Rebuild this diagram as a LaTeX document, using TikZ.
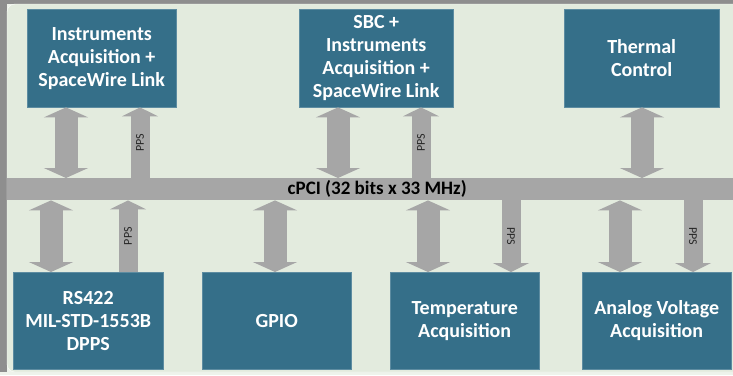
\documentclass[tikz,border=0pt]{standalone}
\usepackage{fontspec}
\setmainfont{Carlito}
\usetikzlibrary{positioning,arrows.meta}

\definecolor{panelbg}{HTML}{E3EBDE}
\definecolor{framegrey}{HTML}{8E8E8E}
\definecolor{boxblue}{HTML}{356F89}
\definecolor{busgrey}{HTML}{A6A6A6}

\begin{document}
\begin{tikzpicture}[x=1pt,y=-1pt,
  blk/.style={draw=boxblue!80!white,fill=boxblue,text=white,anchor=north west,
    minimum height=98pt,align=center,inner sep=0pt,
    font=\fontsize{20}{23}\selectfont\bfseries},
  dbl/.style={draw=busgrey,line width=23pt,
    {Triangle[length=10pt,width=44pt]}-{Triangle[length=10pt,width=44pt]}},
  pps/.style={draw=busgrey,line width=19pt,-{Triangle[length=9pt,width=36pt]}},
  ppslbl/.style={midway,font=\fontsize{12}{12}\selectfont,text=black!85}]
  \useasboundingbox (0,0) rectangle (733,375);
  % background panel
  \fill[panelbg!60!white] (0,0) rectangle (733,375);
  \fill[framegrey] (0,0) rectangle (733,4);
  \fill[framegrey] (0,0) rectangle (7,372);
  \fill[panelbg,draw=white!85!panelbg,rounded corners=8pt] (7,4) rectangle (760,372);
  % upper modules
  \node[blk,minimum width=149pt] (inst) at (27,9) {Instruments\\Acquisition +\\SpaceWire Link};
  \node[blk,minimum width=154pt] (sbc) at (299,9) {SBC +\\Instruments\\Acquisition +\\SpaceWire Link};
  \node[blk,minimum width=155pt] (therm) at (564,9) {Thermal\\Control};
  % bus
  \node[fill=busgrey,anchor=north west,minimum width=740pt,minimum height=22pt,
    inner sep=0pt,font=\fontsize{19}{20}\selectfont\bfseries] (bus) at (7,178)
    {cPCI (32 bits x 33 MHz)};
  % lower modules
  \node[blk,minimum width=150pt,minimum height=97pt] (rs) at (13,272) {RS422\\MIL-STD-1553B\\DPPS};
  \node[blk,minimum width=149pt,minimum height=97pt] (gpio) at (202,272) {GPIO};
  \node[blk,minimum width=149pt,minimum height=97pt] (temp) at (390,272) {Temperature\\Acquisition};
  \node[blk,minimum width=149pt,minimum height=97pt] (anv) at (582,272) {Analog Voltage\\Acquisition};
  % links to the bus
  \draw[dbl] ([xshift=39pt]inst.south west) -- ([xshift=39pt]inst.south west |- bus.north);
  \draw[pps] ([xshift=113pt]inst.south west |- bus.north) -- ([xshift=113pt]inst.south west)
    node[ppslbl,rotate=90] {PPS};
  \draw[dbl] ([xshift=39pt]sbc.south west) -- ([xshift=39pt]sbc.south west |- bus.north);
  \draw[pps] ([xshift=122pt]sbc.south west |- bus.north) -- ([xshift=122pt]sbc.south west)
    node[ppslbl,rotate=90] {PPS};
  \draw[dbl] ([xshift=78pt]therm.south west) -- ([xshift=78pt]therm.south west |- bus.north);
  \draw[dbl] ([xshift=38pt]rs.north west) -- ([xshift=38pt]rs.north west |- bus.south);
  \draw[pps] ([xshift=115pt]rs.north west) -- ([xshift=115pt]rs.north west |- bus.south)
    node[ppslbl,rotate=90] {PPS};
  \draw[dbl] ([xshift=73pt]gpio.north west) -- ([xshift=73pt]gpio.north west |- bus.south);
  \draw[dbl] ([xshift=38pt]temp.north west) -- ([xshift=38pt]temp.north west |- bus.south);
  \draw[pps] ([xshift=121pt]temp.north west |- bus.south) -- ([xshift=121pt]temp.north west)
    node[ppslbl,rotate=-90] {PPS};
  \draw[dbl] ([xshift=38pt]anv.north west) -- ([xshift=38pt]anv.north west |- bus.south);
  \draw[pps] ([xshift=111pt]anv.north west |- bus.south) -- ([xshift=111pt]anv.north west)
    node[ppslbl,rotate=-90] {PPS};
\end{tikzpicture}
\end{document}
